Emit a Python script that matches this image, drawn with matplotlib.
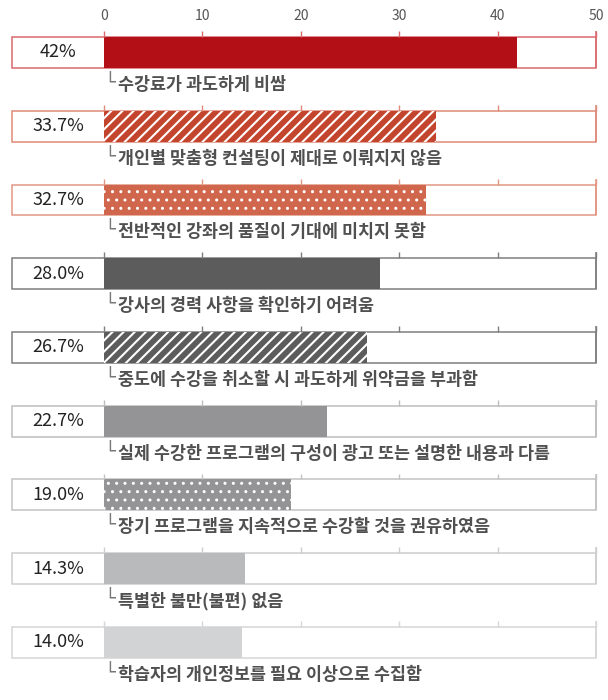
import matplotlib
matplotlib.use("Agg")
import matplotlib.pyplot as plt
from matplotlib.patches import Rectangle

plt.rcParams['font.family'] = ['Noto Sans CJK KR', 'DejaVu Sans']

categories = [
    "수강료가 과도하게 비쌈",
    "개인별 맞춤형 컨설팅이 제대로 이뤄지지 않음",
    "전반적인 강좌의 품질이 기대에 미치지 못함",
    "강사의 경력 사항을 확인하기 어려움",
    "중도에 수강을 취소할 시 과도하게 위약금을 부과함",
    "실제 수강한 프로그램의 구성이 광고 또는 설명한 내용과 다름",
    "장기 프로그램을 지속적으로 수강할 것을 권유하였음",
    "특별한 불만(불편) 없음",
    "학습자의 개인정보를 필요 이상으로 수집함",
]
values = [42.0, 33.7, 32.7, 28.0, 26.7, 22.7, 19.0, 14.3, 14.0]
value_labels = ["42%", "33.7%", "32.7%", "28.0%", "26.7%", "22.7%", "19.0%", "14.3%", "14.0%"]
ticks = [0, 10, 20, 30, 40, 50]

face_colors = ["#B20F17", "#C4452E", "#D0674D", "#5C5C5C", "#5C5C5C",
               "#949497", "#949497", "#B9BABC", "#D2D3D5"]
border_colors = ["#D8696D", "#DF8A78", "#E29682", "#7E7E7E", "#7E7E7E",
                 "#BDBDBD", "#C2C2C2", "#CDCDCD", "#D6D6D6"]
hatches = [None, "///", "..", None, "///", None, "..", None, None]
hatch_lw = {"///": 1.5, "..": 1.0}

fig = plt.figure(figsize=(6.08, 7.0), dpi=100)
ax = fig.add_axes([0, 0, 1, 1 - 30 / 700])
ax.set_xlim(-10.57, 51.22)
ax.set_ylim(8.78, -0.305)

bar_h = 0.42
box_left = -9.35
for i, v in enumerate(values):
    # outline box incl. the label cell
    ax.add_patch(Rectangle((box_left, i - bar_h / 2), 50 - box_left, bar_h,
                           facecolor="white", edgecolor=border_colors[i],
                           linewidth=1.1, zorder=1))
    h = hatches[i]
    if h:
        with plt.rc_context({"hatch.linewidth": hatch_lw[h]}):
            bars = ax.barh(i, v, height=bar_h, color=face_colors[i], hatch=h,
                           edgecolor="white", linewidth=0, zorder=2)
            for b in bars:
                if hasattr(b, "set_hatch_linewidth"):
                    b.set_hatch_linewidth(hatch_lw[h])
    else:
        ax.barh(i, v, height=bar_h, color=face_colors[i], linewidth=0, zorder=2)
    ax.vlines(ticks, i - bar_h / 2 - 0.08, i - bar_h / 2,
              color=border_colors[i], linewidth=1.0, zorder=3)
    ax.vlines(50, i - bar_h / 2 - 0.08, i + bar_h / 2,
              color=border_colors[i], linewidth=1.1, zorder=3)
    ax.text((box_left + 0) / 2, i, value_labels[i], ha="center", va="center",
            fontsize=13, color="#222222")
    ax.text(0.05, i + 0.42, "└", ha="left", va="center", fontsize=13,
            color="#777777", family="DejaVu Sans")
    ax.text(1.4, i + 0.44, categories[i], ha="left", va="center",
            fontsize=12.5, fontweight="bold", color="#505050")

ax.xaxis.tick_top()
ax.set_xticks(ticks)
ax.set_xticklabels([str(t) for t in ticks], fontsize=10, color="#555555")
ax.tick_params(axis="x", length=0, pad=5)
ax.set_yticks([])
for s in ax.spines.values():
    s.set_visible(False)

fig.savefig("out.png", dpi=100)
